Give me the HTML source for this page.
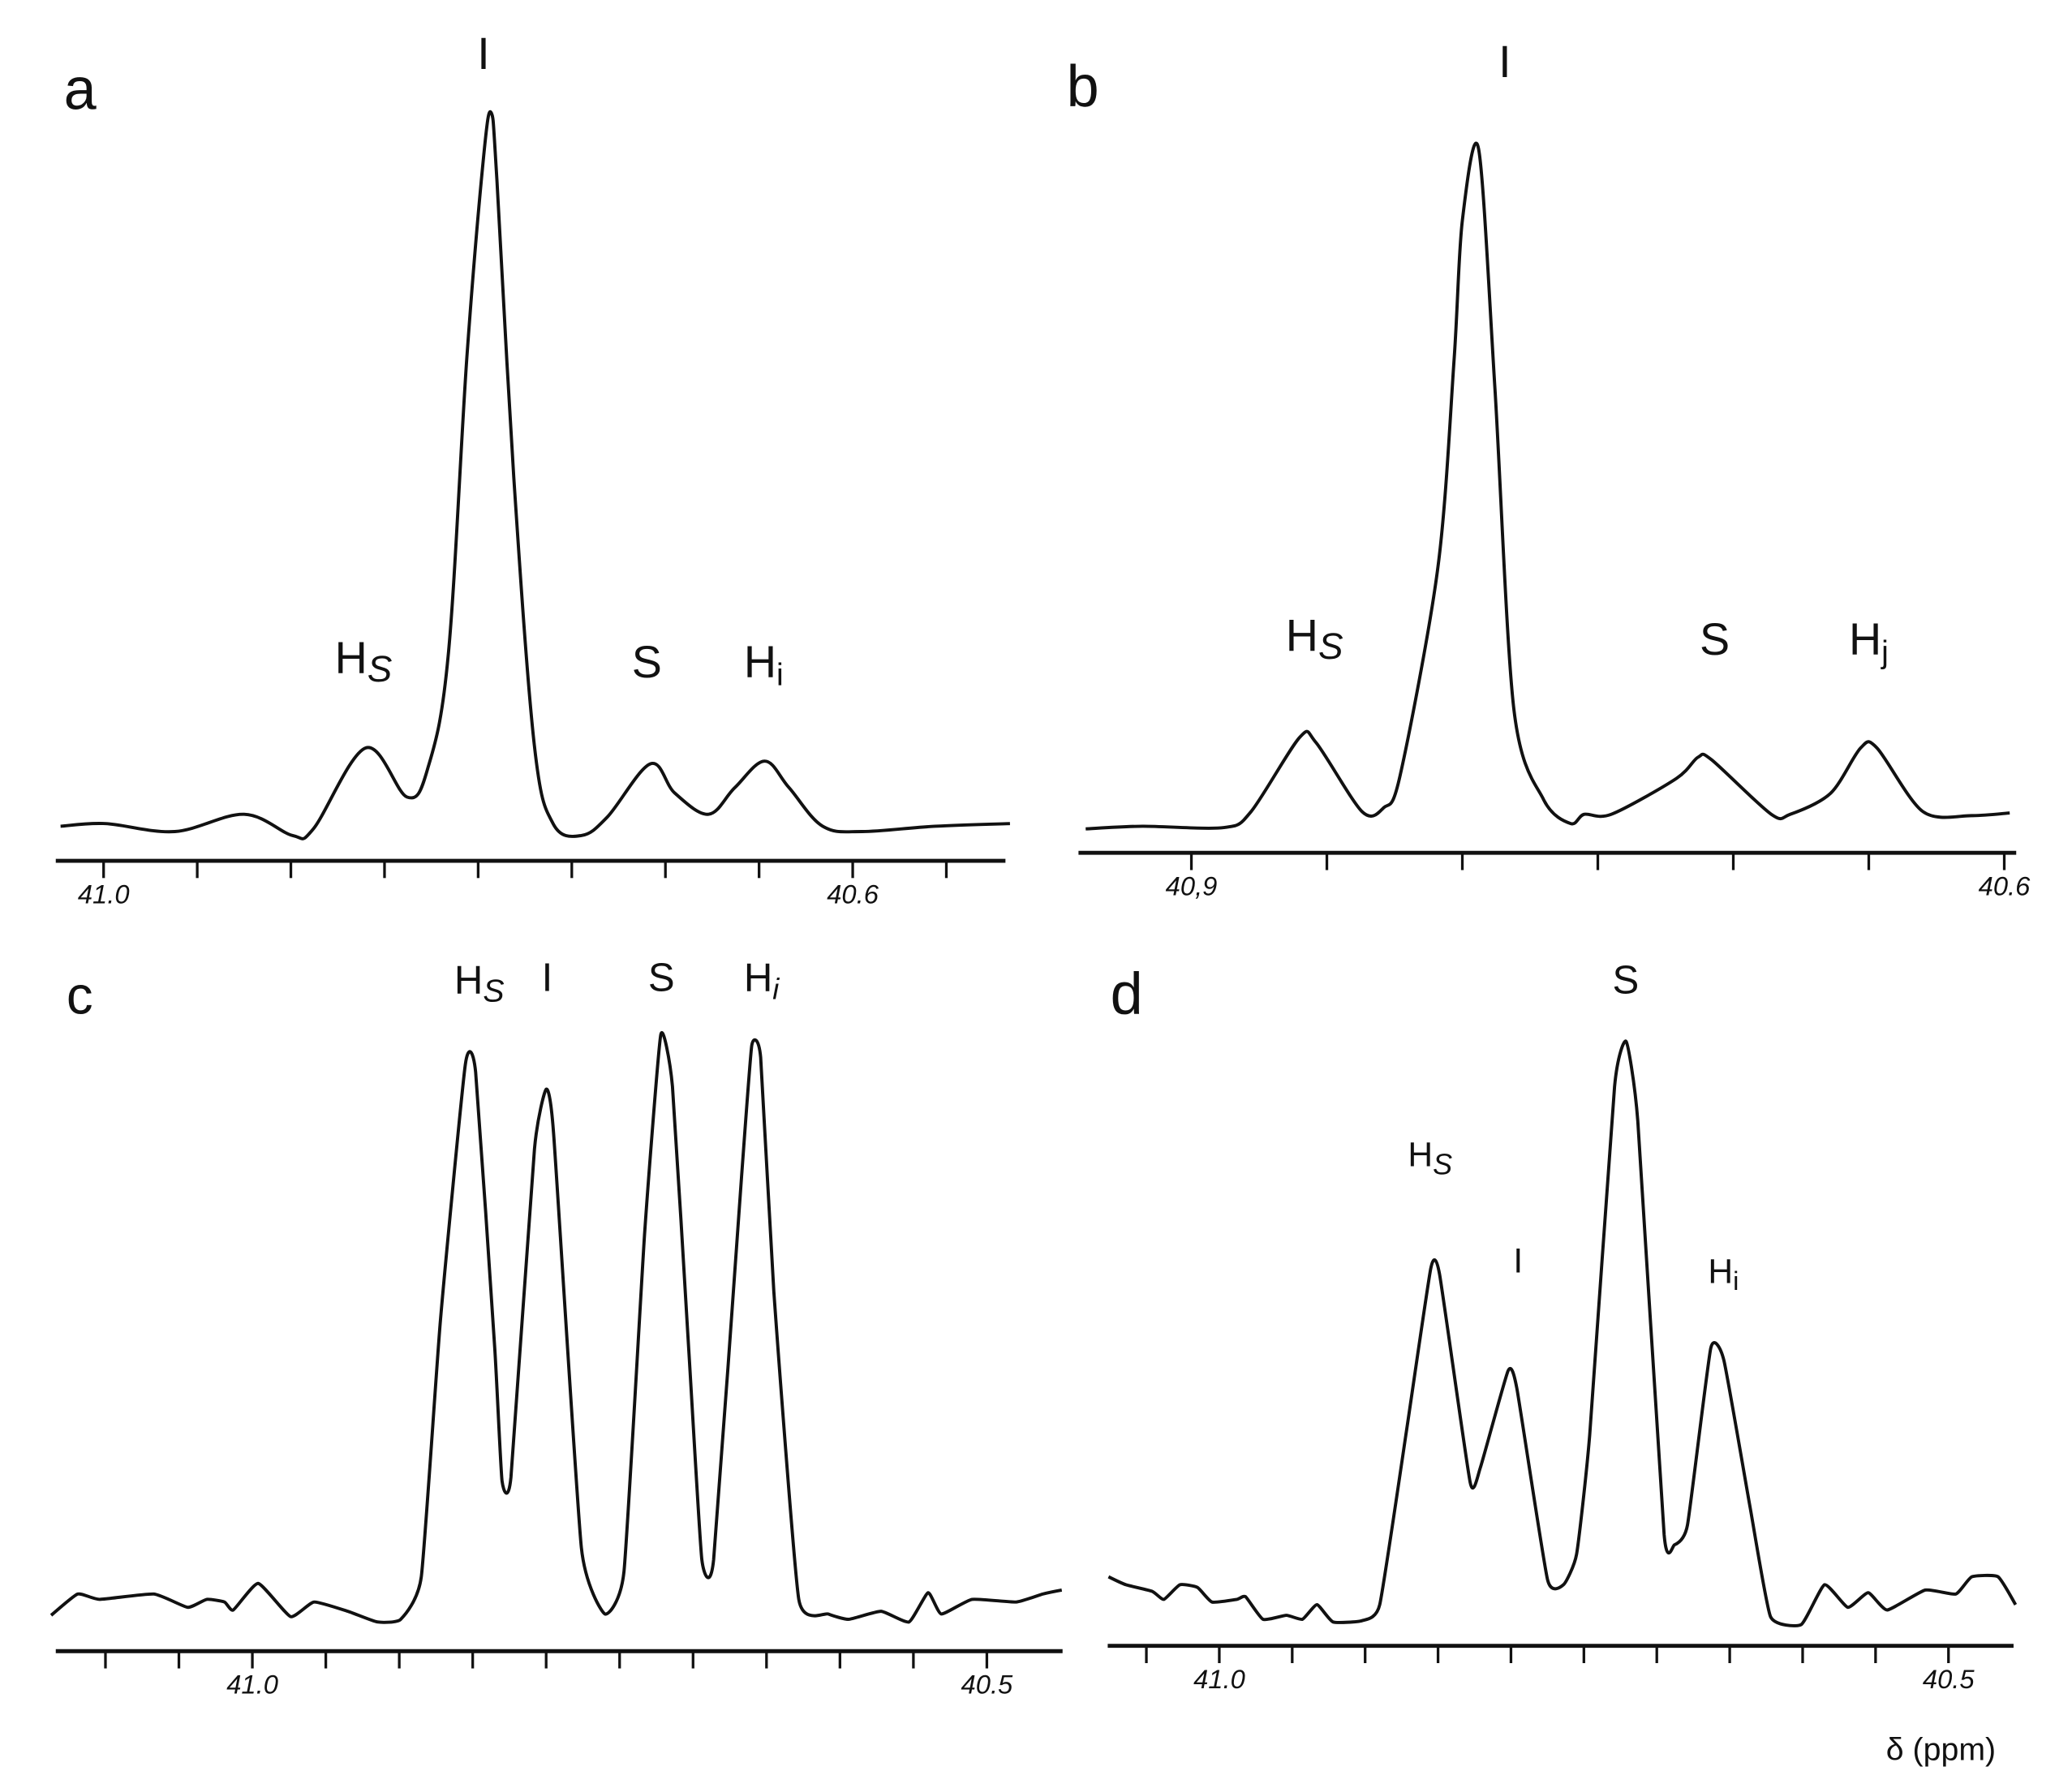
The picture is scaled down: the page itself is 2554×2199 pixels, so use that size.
<!DOCTYPE html>
<html><head><meta charset="utf-8"><style>
html,body{margin:0;padding:0;background:#fff;}
svg{display:block;}
text{font-family:"Liberation Sans",sans-serif;fill:#111;}
</style></head><body>
<svg id="fig" width="2554" height="2199" viewBox="0 0 1560 1343" preserveAspectRatio="none" xmlns="http://www.w3.org/2000/svg">
<rect width="1560" height="1343" fill="#fff"/>
</svg>
<script>
// Panel a data (ppm, intensity)
const ppmA=[41.023,40.999,40.962,40.925,40.899,40.888,40.860,40.838,40.827,40.816,40.806,40.797,40.793,40.790,40.781,40.770,40.760,40.745,40.731,40.708,40.695,40.677,40.663,40.647,40.634,40.616,40.595,40.556,40.516];
const intA=[3,5,-1,12,-4,1,62,25,46,131,356,508,540,490,266,64,5,-4,10,50,28,12,32,52,32,3,-1,3,5];
// Panel b
const ppmB=[40.939,40.918,40.888,40.878,40.860,40.854,40.837,40.829,40.823,40.809,40.803,40.800,40.794,40.788,40.781,40.770,40.760,40.755,40.745,40.721,40.713,40.708,40.686,40.679,40.664,40.653,40.647,40.630,40.612,40.598];
const intB=[0,2,1,13,69,65,13,16,40,197,355,458,512,332,90,22,4,11,11,38,54,52,11,11,27,61,61,13,10,12];
// Panel c
const ppmC=[41.137,41.119,41.104,41.067,41.044,41.031,41.019,41.013,40.996,40.974,40.958,40.935,40.915,40.899,40.885,40.872,40.855,40.848,40.835,40.830,40.824,40.808,40.800,40.795,40.776,40.760,40.747,40.733,40.722,40.714,40.703,40.694,40.686,40.667,40.660,40.654,40.645,40.628,40.608,40.594,40.572,40.553,40.540,40.531,40.510,40.480,40.462,40.449];
const intC=[-1,15,11,15,5,11,9,3,23,-2,9,2,-6,-4,28,221,414,408,200,100,103,350,395,363,50,0,32,286,436,397,200,41,41,329,428,419,243,11,0,-4,2,-6,16,0,11,9,15,18];
// Panel d
const ppmD=[41.076,41.064,41.046,41.038,41.027,41.015,41.005,40.988,40.982,40.970,40.954,40.943,40.933,40.922,40.902,40.890,40.872,40.855,40.849,40.828,40.821,40.802,40.796,40.775,40.764,40.755,40.746,40.729,40.721,40.713,40.695,40.688,40.679,40.663,40.654,40.636,40.622,40.601,40.585,40.569,40.555,40.542,40.516,40.495,40.484,40.466,40.454];
const intD=[32,26,21,15,26,24,13,15,17,0,3,0,11,-2,-1,11,139,264,260,103,114,187,174,30,26,49,139,401,435,375,64,56,71,204,195,84,2,-4,26,9,20,7,22,19,32,32,11];
// Tick values and labels
const ticksA=[41.0,40.95,40.9,40.85,40.8,40.75,40.7,40.65,40.6,40.55];
const ticksB=[40.9,40.85,40.8,40.75,40.7,40.65,40.6];
const ticksC=[41.1,41.05,41.0,40.95,40.9,40.85,40.8,40.75,40.7,40.65,40.6,40.55,40.5];
const ticksD=[41.05,41.0,40.95,40.9,40.85,40.8,40.75,40.7,40.65,40.6,40.55,40.5];
const tickLabelsA=[[41.0,"41.0"],[40.6,"40.6"]];
const tickLabelsB=[[40.9,"40,9"],[40.6,"40.6"]];
const tickLabelsC=[[41.0,"41.0"],[40.5,"40.5"]];
const tickLabelsD=[[41.0,"41.0"],[40.5,"40.5"]];

const NS="http://www.w3.org/2000/svg";
const svg=document.getElementById('fig');
function mk(tag,attrs){const e=document.createElementNS(NS,tag);for(const k in attrs)e.setAttribute(k,attrs[k]);svg.appendChild(e);return e;}
function smoothPath(pts,t){
 let d='M'+pts[0][0].toFixed(1)+' '+pts[0][1].toFixed(1);
 for(let i=0;i<pts.length-1;i++){
  const p0=pts[Math.max(0,i-1)],p1=pts[i],p2=pts[i+1],p3=pts[Math.min(pts.length-1,i+2)];
  const c1=[p1[0]+(p2[0]-p0[0])*t,p1[1]+(p2[1]-p0[1])*t];
  const c2=[p2[0]-(p3[0]-p1[0])*t,p2[1]-(p3[1]-p1[1])*t];
  d+='C'+c1[0].toFixed(1)+' '+c1[1].toFixed(1)+' '+c2[0].toFixed(1)+' '+c2[1].toFixed(1)+' '+p2[0].toFixed(1)+' '+p2[1].toFixed(1);
 }
 return d;
}

const panels=[
 {id:'a',ppm:ppmA,val:intA,ticks:ticksA,labels:tickLabelsA,ref:41.0,refX:78,k:1410,base:625,axY:648,ax0:42,ax1:757,sm:0.17},
 {id:'b',ppm:ppmB,val:intB,ticks:ticksB,labels:tickLabelsB,ref:40.9,refX:897,k:2040,base:624,axY:642,ax0:812,ax1:1518,sm:0.15},
 {id:'c',ppm:ppmC,val:intC,ticks:ticksC,labels:tickLabelsC,ref:41.0,refX:190,k:1106,base:1215,axY:1243,ax0:42,ax1:800,sm:0.08},
 {id:'d',ppm:ppmD,val:intD,ticks:ticksD,labels:tickLabelsD,ref:41.0,refX:918,k:1098,base:1219,axY:1239,ax0:834,ax1:1516,sm:0.08}
];
panels.forEach(p=>{
 const xs=v=>p.refX+(p.ref-v)*p.k;
 const ys=v=>p.base-v;
 const pts=p.ppm.map((v,i)=>[xs(v),ys(p.val[i])]);
 const path=mk('path',{d:smoothPath(pts,p.sm),fill:'none',stroke:'#111','stroke-width':2.4,'stroke-linejoin':'round'});
 
 
 const ax=mk('line',{x1:p.ax0,y1:p.axY,x2:p.ax1,y2:p.axY,stroke:'#111','stroke-width':3});
 
 
 p.ticks.forEach(t=>{
  const tk=mk('line',{x1:xs(t),y1:p.axY,x2:xs(t),y2:p.axY+13,stroke:'#111','stroke-width':2});
  
  
 });
 p.labels.forEach(l=>{
  const tx=mk('text',{x:xs(l[0]),y:p.axY+32,'text-anchor':'middle','font-size':20,'font-style':'italic'});
  tx.textContent=l[1];
  
  
 });
});
</script>
<svg style="position:absolute;left:0;top:0" width="2554" height="2199" viewBox="0 0 1560 1343" preserveAspectRatio="none" xmlns="http://www.w3.org/2000/svg">
<g font-family="Liberation Sans, sans-serif" fill="#111">
<text x="48" y="82" font-size="44">a</text>
<text x="364" y="52" font-size="34" text-anchor="middle">I</text>
<text x="252" y="507" font-size="34">H<tspan font-size="28" font-style="italic" dy="6">S</tspan></text>
<text x="487" y="510" font-size="34" text-anchor="middle">S</text>
<text x="560" y="510" font-size="34">H<tspan font-size="24" dy="6">i</tspan></text>

<text x="803" y="80" font-size="44">b</text>
<text x="1133" y="58" font-size="34" text-anchor="middle">I</text>
<text x="968" y="490" font-size="34">H<tspan font-size="28" font-style="italic" dy="6">S</tspan></text>
<text x="1291" y="493" font-size="34" text-anchor="middle">S</text>
<text x="1392" y="493" font-size="34">H<tspan font-size="24" dy="6">j</tspan></text>

<text x="50" y="763" font-size="40">c</text>
<text x="342" y="748" font-size="30">H<tspan font-size="24" font-style="italic" dy="6">S</tspan></text>
<text x="412" y="746" font-size="30" text-anchor="middle">I</text>
<text x="498" y="746" font-size="30" text-anchor="middle">S</text>
<text x="560" y="746" font-size="30">H<tspan font-size="22" font-style="italic" dy="6">i</tspan></text>

<text x="836" y="763" font-size="44">d</text>
<text x="1224" y="748" font-size="30" text-anchor="middle">S</text>
<text x="1060" y="878" font-size="26">H<tspan font-size="22" font-style="italic" dy="6">S</tspan></text>
<text x="1143" y="958" font-size="26" text-anchor="middle">I</text>
<text x="1286" y="966" font-size="26">H<tspan font-size="20" dy="5">i</tspan></text>
<text x="1420" y="1325" font-size="24">δ (ppm)</text>
</g>
</svg>
</body></html>
